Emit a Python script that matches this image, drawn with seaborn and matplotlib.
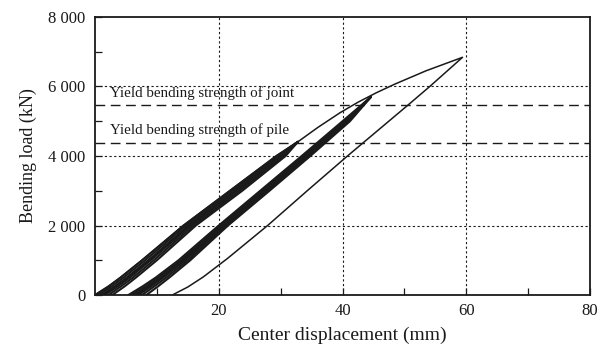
import matplotlib
matplotlib.use("Agg")
import matplotlib.pyplot as plt
import numpy as np
import pandas as pd
import seaborn as sns
from matplotlib.ticker import FixedLocator, FuncFormatter

# ---------------- data ----------------
# first group of cycles (peak ~33 mm)
y_g1 = [0, 250, 500, 1000, 2000, 3000, 4000, 4410]
g1_load_1 = [0.0, 2.2, 4.1, 7.6, 14.3, 21.8, 29.3, 32.8]
g1_load_2 = [0.5, 2.7, 4.6, 8.1, 14.7, 22.2, 29.6, 32.8]
g1_load_3 = [1.0, 3.2, 5.1, 8.6, 15.1, 22.6, 29.9, 32.8]
g1_unld_3 = [1.6, 3.7, 5.6, 9.0, 15.5, 23.0, 30.2, 32.8]
g1_unld_2 = [2.2, 4.2, 6.1, 9.5, 15.9, 23.4, 30.5, 32.8]
g1_unld_1 = [2.8, 4.8, 6.6, 10.0, 16.3, 23.8, 30.8, 32.8]

# second group of cycles (peak ~45 mm)
y_g2 = [0, 250, 500, 1000, 2000, 3000, 4000, 5000, 5700]
g2_load_1 = [5.4, 7.7, 9.8, 13.5, 20.0, 26.7, 33.4, 40.0, 44.6]
g2_load_2 = [5.9, 8.2, 10.2, 13.9, 20.3, 27.0, 33.7, 40.3, 44.6]
g2_load_3 = [6.4, 8.6, 10.6, 14.2, 20.6, 27.3, 34.0, 40.5, 44.6]
g2_unld_3 = [7.0, 9.1, 11.0, 14.6, 20.9, 27.6, 34.2, 40.7, 44.6]
g2_unld_2 = [7.6, 9.6, 11.5, 15.0, 21.2, 27.9, 34.5, 40.9, 44.6]
g2_unld_1 = [8.3, 10.2, 12.0, 15.4, 21.5, 28.2, 34.8, 41.2, 44.6]

# final loading (continuing the first envelope) up to ~59 mm, then unloading
final_load_x = [0.0, 2.2, 4.1, 7.6, 14.3, 21.8, 29.3, 32.8,
                36.0, 39.6, 42.5, 45.5, 48.5, 53.5, 59.4]
final_load_y = [0, 250, 500, 1000, 2000, 3000, 4000, 4410,
                4820, 5245, 5547, 5823, 6072, 6452, 6840]
final_unld_x = [59.4, 54.1, 50.6, 40.8, 34.3, 27.9, 21.4, 17.5, 15.0, 12.5]
final_unld_y = [6840, 6000, 5468, 4000, 3000, 2000, 1050, 520, 230, 0]

yield_joint = 5468
yield_pile = 4383
label_joint = "Yield bending strength of joint"
label_pile = "Yield bending strength of pile"

x_major = [20, 40, 60, 80]
x_minor = [10, 30, 50, 70]
y_major = [0, 2000, 4000, 6000, 8000]
y_minor = [1000, 3000, 5000, 7000]
x_label = "Center displacement (mm)"
y_label = "Bending load (kN)"

# ---------------- build tidy table ----------------
rows = []
def add_loop(name, load_x, unld_x, ys):
    xs = list(load_x) + list(unld_x[::-1][1:])
    yy = list(ys) + list(ys[::-1][1:])
    for i, (a, b) in enumerate(zip(xs, yy)):
        rows.append(dict(curve=name, kind="band", order=i, x=a, y=b))

add_loop("g1c1", g1_load_1, g1_unld_1, y_g1)
add_loop("g1c2", g1_load_2, g1_unld_2, y_g1)
add_loop("g1c3", g1_load_3, g1_unld_3, y_g1)
add_loop("g2c1", g2_load_1, g2_unld_1, y_g2)
add_loop("g2c2", g2_load_2, g2_unld_2, y_g2)
add_loop("g2c3", g2_load_3, g2_unld_3, y_g2)
df_band = pd.DataFrame(rows)

fx = final_load_x + final_unld_x[1:]
fy = final_load_y + final_unld_y[1:]
df_final = pd.DataFrame(dict(x=fx, y=fy, curve="final"))

# ---------------- plot ----------------
sns.set_theme(style="white")
plt.rcParams["font.family"] = ["Liberation Serif", "DejaVu Serif"]
ink = "#1a1a1a"
plt.rcParams.update({"text.color": ink, "axes.labelcolor": ink,
                     "xtick.color": ink, "ytick.color": ink})

fig = plt.figure(figsize=(6.09, 3.52), dpi=100)
ax = fig.add_axes([95 / 609, 1 - 295 / 352, (590 - 95) / 609, (295 - 17) / 352])

# grid (dotted)
for gx in x_major[:-1]:
    ax.axvline(gx, color=ink, lw=0.8, ls=(0, (2, 2.2)), zorder=1)
for gy in y_major[1:-1]:
    ax.axhline(gy, color=ink, lw=0.8, ls=(0, (2, 2.2)), zorder=1)

# yield lines (dashed)
ax.axhline(yield_joint, color=ink, lw=1.0, ls=(0, (7, 4)), zorder=1)
ax.axhline(yield_pile, color=ink, lw=1.0, ls=(0, (7, 4)), zorder=1)

sns.lineplot(data=df_band, x="x", y="y", units="curve", estimator=None, sort=False,
             color=ink, lw=1.5, ax=ax, legend=False, zorder=3)
sns.lineplot(data=df_final, x="x", y="y", estimator=None, sort=False,
             color=ink, lw=1.1, ax=ax, legend=False, zorder=3)

ax.text(2.4, 5800, label_joint, fontsize=10.8, va="center", ha="left")
ax.text(2.4, 4750, label_pile, fontsize=10.8, va="center", ha="left")

ax.set_xlim(0, 80)
ax.set_ylim(0, 8000)
ax.xaxis.set_major_locator(FixedLocator(x_major))
ax.xaxis.set_minor_locator(FixedLocator(x_minor))
ax.yaxis.set_major_locator(FixedLocator(y_major))
ax.yaxis.set_minor_locator(FixedLocator(y_minor))
ax.yaxis.set_major_formatter(FuncFormatter(lambda v, p: f"{int(v):,}".replace(",", " ")))
ax.tick_params(which="both", direction="in", length=5, width=0.9, color=ink,
               labelsize=12, bottom=True, left=True, top=False, right=False)
ax.tick_params(axis="x", pad=6)
ax.tick_params(axis="y", pad=7)
for s in ax.spines.values():
    s.set_color(ink)
    s.set_linewidth(1.3)
    s.set_visible(True)
ax.set_xlabel(x_label, fontsize=14, labelpad=5)
ax.set_ylabel(y_label, fontsize=13, labelpad=8)

fig.savefig("out.png", dpi=100)
